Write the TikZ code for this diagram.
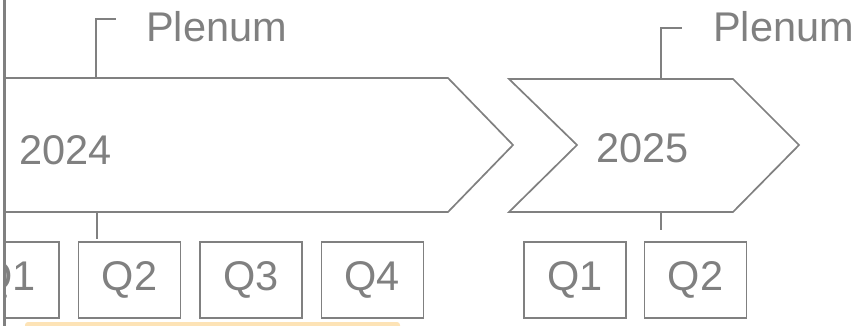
\documentclass[tikz,border=0pt]{standalone}
\usepackage{fontspec}
\setmainfont{Liberation Sans}
\usetikzlibrary{positioning}
\definecolor{linegray}{HTML}{808080}
\definecolor{peach}{HTML}{FDE3B6}
\tikzset{
  big/.style={font=\fontsize{41.5}{48}\selectfont, text=linegray, inner sep=0pt},
  quarter/.style={draw=linegray, line width=1.4pt, minimum width=102pt, minimum height=76pt, big},
  chev/.style={draw=linegray, line width=1.7pt, line join=miter},
  tick/.style={draw=linegray, line width=1.4pt}
}
\begin{document}
\begin{tikzpicture}[x=1pt,y=-1pt]
\useasboundingbox (0,0) rectangle (854,326);
\begin{scope}
\clip (4,0) rectangle (854,326);
% highlight strip
\fill [peach, rounded corners=3pt] (25,322) rectangle (400,330);
% year arrows
\draw [chev] (-10,78) -- (448,78) -- (513,145) -- (448,212) -- (-10,212);
\draw [chev] (509,79) -- (733,79) -- (799,145) -- (733,212) -- (509,212) -- (577,145) -- cycle;
\node [big, anchor=west] (y24) at (19,150) {2024};
\node [big, anchor=west] (y25) at (596,148) {2025};
% plenum labels
\coordinate (p1) at (96,78);
\coordinate (p2) at (661,79);
\node [big, anchor=base west] (pl1) at (146,42) {Plenum};
\node [big, anchor=base west] (pl2) at (713,42) {Plenum};
\draw [tick] (p1) -- (96,19) -- (116,19);
\draw [tick] (p2) -- (661,28) -- (682,28);
% quarters
\node [quarter] (a1) at (8,280) {Q1};
\node [quarter, right=18pt of a1] (a2) {Q2};
\node [quarter, right=18pt of a2] (a3) {Q3};
\node [quarter, right=18pt of a3] (a4) {Q4};
\node [quarter] (b1) at (575,280) {Q1};
\node [quarter, right=17pt of b1] (b2) {Q2};
\coordinate (s1) at (97,212);
\coordinate (e1) at (97,239);
\coordinate (s2) at (661,212);
\coordinate (e2) at (661,230);
\draw [tick] (s1) -- (e1);
\draw [tick] (s2) -- (e2);
\end{scope}
% left edge bar
\fill [linegray] (2.5,0) rectangle (5.8,326);
\end{tikzpicture}
\end{document}
